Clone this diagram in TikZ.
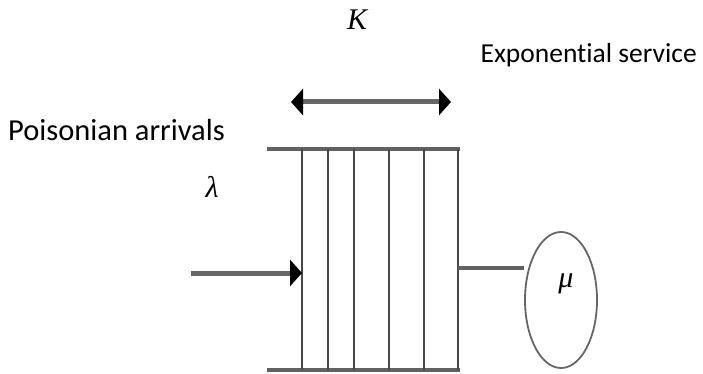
\documentclass[tikz,border=0pt]{standalone}
\usepackage{fontspec}
\setmainfont[Ligatures=NoCommon]{Carlito}
\newfontfamily\serifit{Liberation Serif}
\usetikzlibrary{arrows.meta,shapes.geometric}
\begin{document}
\begin{tikzpicture}[x=1pt,y=-1pt,
  label/.style={inner sep=0pt},
  sym/.style={font=\fontsize{30}{34}\selectfont\serifit\itshape, inner sep=0pt},
  rail/.style={draw=black!62, line width=4pt},
  slot/.style={draw=black!72, line width=1.7pt},
  flow/.style={draw=black!60, line width=5pt, -{Triangle[length=12pt,width=26pt,color=black]}},
  span/.style={draw=black!60, line width=5pt, {Triangle[length=12pt,width=26pt,color=black]}-{Triangle[length=12pt,width=26pt,color=black]}}]
\useasboundingbox (0,0) rectangle (703,374);
% queue rails
\coordinate (tl) at (267,149);
\coordinate (tr) at (460,149);
\coordinate (bl) at (267,370);
\coordinate (br) at (460,370);
\draw[rail] (tl) -- (tr);
\draw[rail] (bl) -- (br);
% slots
\foreach \x/\n in {302/a,328/b,354/c,389/d,424/e,458/f}{
  \coordinate (s\n t) at (\x,149);
  \coordinate (s\n b) at (\x,370);
  \draw[slot] (s\n t) -- (s\n b);
}
% server
\node[draw=black!60, line width=1.8pt, ellipse, minimum width=72pt, minimum height=136pt, inner sep=0pt] (srv) at (561,300) {};
\node[sym] (mu) at (566,284) {μ};
\coordinate (qout) at (458,268);
\draw[rail] (qout) -- (srv.west |- qout);
% arrivals
\coordinate (ain) at (191,273);
\coordinate (aend) at (302,273);
\draw[flow] (ain) -- (aend);
% capacity
\coordinate (kl) at (291,102);
\coordinate (kr) at (451,102);
\draw[span] (kl) -- (kr);
% labels
\node[sym] (K) at (357,20) {K};
\node[sym] (lam) at (212,187) {λ};
\node[label, anchor=west, font=\fontsize{30.5}{35}\selectfont] (arr) at (8,130) {Poisonian arrivals};
\node[label, anchor=east, font=\fontsize{27.5}{32}\selectfont] (svc) at (697,55) {Exponential service};
\end{tikzpicture}
\end{document}
